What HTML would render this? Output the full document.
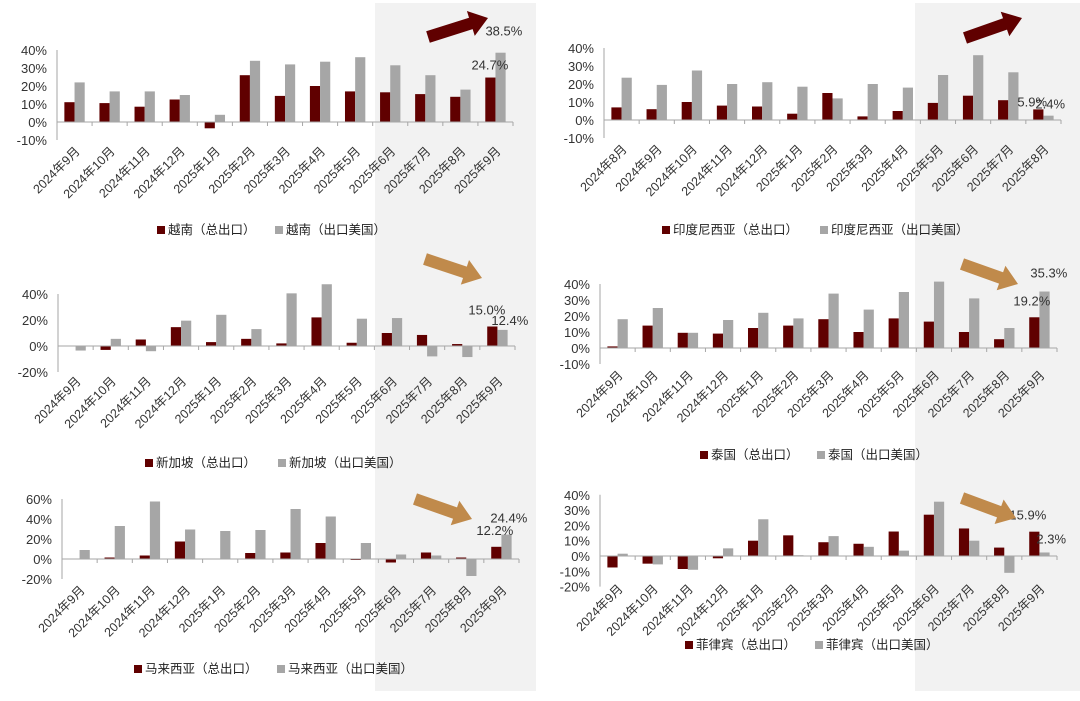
<!DOCTYPE html>
<html><head><meta charset="utf-8">
<style>
html,body{margin:0;padding:0;background:#fff;}
svg{display:block;font-family:"Liberation Sans","Noto Sans CJK SC",sans-serif;}
</style></head>
<body>
<svg id="c" width="1080" height="701" viewBox="0 0 1080 701" xmlns="http://www.w3.org/2000/svg">
<rect x="375" y="3" width="161" height="688" fill="#f2f2f2"/>
<rect x="915" y="3" width="165" height="688" fill="#f2f2f2"/>
<g id="panels"></g>
</svg>
<script>
const catsA = ["2024年9月","2024年10月","2024年11月","2024年12月","2025年1月","2025年2月","2025年3月","2025年4月","2025年5月","2025年6月","2025年7月","2025年8月","2025年9月"];
const catsB = ["2024年8月","2024年9月","2024年10月","2024年11月","2024年12月","2025年1月","2025年2月","2025年3月","2025年4月","2025年5月","2025年6月","2025年7月","2025年8月"];
const vnTotal = [11,10.5,8.5,12.5,-3.5,26,14.5,20,17,16.5,15.5,14,24.7];
const vnUS = [22,17,17,15,4,34,32,33.5,36,31.5,26,18,38.5];
const idTotal = [7,6,10,8,7.5,3.5,15,2,5,9.5,13.5,11,5.9];
const idUS = [23.5,19.5,27.5,20,21,18.5,12,20,18,25,36,26.5,2.4];
const sgTotal = [0,-3,5,14.5,3,5.5,2,22,2.5,10,8.5,1.5,15.0];
const sgUS = [-3.5,5.5,-4,19.5,24,13,40.5,47.5,21,21.5,-8,-8.5,12.4];
const thTotal = [1,14,9.5,9,12.5,14,18,10,18.5,16.5,10,5.5,19.2];
const thUS = [18,25,9.5,17.5,22,18.5,34,24,35,41.5,31,12.5,35.3];
const myTotal = [-0.5,1.5,3.5,17.5,0,6,6.5,16,-1,-3.5,6.5,1.5,12.2];
const myUS = [9,33,57.5,29.5,28,29,50,42.5,16,4.5,3.5,-17,24.4];
const phTotal = [-7.5,-5,-8.5,-1.5,10,13.5,9,8,16,27,18,5.5,15.9];
const phUS = [1.5,-5.5,-9,5,24,0.5,13,6,3.5,35.5,10,-11,2.3];
const ticksVN = [40,30,20,10,0,-10];
const ticksSG = [40,20,0,-20];
const ticksMY = [60,40,20,0,-20];
const ticksPH = [40,30,20,10,0,-10,-20];
const namesArr = ["越南","印度尼西亚","新加坡","泰国","马来西亚","菲律宾"];

const NS="http://www.w3.org/2000/svg";
const root=document.getElementById('panels');
function mk(tag,attrs,parent){const e=document.createElementNS(NS,tag);for(const k in attrs)e.setAttribute(k,attrs[k]);(parent||root).appendChild(e);return e;}

function panel(o){
  const g=mk('g',{});
  
  
  const y=v=>o.y0-(v-0)*o.ppu;
  const n=o.cats.length, w=(o.x1-o.x0)/n;
  const x=i=>o.x0+w*(i+0.5);
  const top=y(o.ticks[0]), bot=y(o.ticks[o.ticks.length-1]);
  const lo=(o.lo===undefined)?12:o.lo;
  const ax=mk('line',{x1:o.x0,y1:top,x2:o.x0,y2:bot,stroke:'#a6a6a6','stroke-width':1},g);
  
  
  o.ticks.forEach(t=>{
    const tx=mk('text',{x:o.x0-10,y:y(t)+5,'text-anchor':'end','font-size':13,fill:'#333'},g);
    tx.textContent=t+'%';
    
    
  });
  const bw=w*0.29;
  o.cats.forEach((c,i)=>{
    const a=o.total[i], b=o.us[i];
    const r1=mk('rect',{x:x(i)-bw,y:Math.min(y(a),y(0)),width:bw,height:Math.abs(y(a)-y(0)),fill:'#600000'},g);
    
    
    const r2=mk('rect',{x:x(i),y:Math.min(y(b),y(0)),width:bw,height:Math.abs(y(b)-y(0)),fill:'#a6a6a6'},g);
    
    
    const tl=mk('text',{x:0,y:0,'text-anchor':'end','font-size':12.5,fill:'#333',transform:`translate(${x(i)+6},${bot+lo}) rotate(-45)`},g);
    tl.textContent=c;
    
    
  });
  const xa=mk('line',{x1:o.x0,y1:y(0),x2:o.x1,y2:y(0),stroke:'#a6a6a6','stroke-width':1},g);
  
  
  for(let i=1;i<=n;i++){mk('line',{x1:o.x0+w*i,y1:y(0),x2:o.x0+w*i,y2:y(0)+4,stroke:'#a6a6a6'},g);}
  const L=n-1;
  const l1=mk('text',{x:x(L)+o.lb[0],y:y(o.us[L])+o.lb[1],'font-size':13,fill:'#333'},g);
  l1.textContent=o.us[L].toFixed(1)+'%';
  
  
  const l2=mk('text',{x:x(L)+o.la[0],y:y(o.total[L])+o.la[1],'font-size':13,fill:'#333'},g);
  l2.textContent=o.total[L].toFixed(1)+'%';
  
  
  const lx=o.leg[0], ly=o.leg[1];
  mk('rect',{x:lx,y:ly-8,width:8,height:8,fill:'#600000'},g);
  const t1=mk('text',{x:lx+11,y:ly,'font-size':12.5,fill:'#222'},g);
  t1.textContent=o.name+'（总出口）';
  
  
  const gx=lx+o.legGap;
  mk('rect',{x:gx,y:ly-8,width:8,height:8,fill:'#a6a6a6'},g);
  const t2=mk('text',{x:gx+11,y:ly,'font-size':12.5,fill:'#222'},g);
  t2.textContent=o.name+'（出口美国）';
  
  
  const [ax1,ay1,ax2,ay2]=o.arrow;
  const ang=Math.atan2(ay2-ay1,ax2-ax1), len=Math.hypot(ax2-ax1,ay2-ay1);
  const ar=mk('polygon',{points:`0,-6 ${len-18},-6 ${len-18},-13 ${len},0 ${len-18},13 ${len-18},6 0,6`,fill:o.arrowColor,transform:`translate(${ax1},${ay1}) rotate(${ang*180/Math.PI})`},g);
  
  
}

panel({id:'vietnam',name:namesArr[0],cats:catsA,total:vnTotal,us:vnUS,ticks:ticksVN,x0:57,x1:513,y0:122,ppu:1.8,lb:[-10,-17],la:[-24,-8],leg:[157,234],legGap:118,arrow:[428,37,488,18],arrowColor:'#600000'});
panel({id:'indonesia',name:namesArr[1],cats:catsB,total:idTotal,us:idUS,ticks:ticksVN,x0:604,x1:1061,y0:120,ppu:1.8,lb:[-8,-7],la:[-26,-3],leg:[662,234],legGap:158,arrow:[965,38,1022,18],arrowColor:'#600000'});
panel({id:'singapore',name:namesArr[2],cats:catsA,total:sgTotal,us:sgUS,ticks:ticksSG,x0:58,x1:515,y0:346,ppu:1.3,lb:[-6,-5],la:[-29,-12],leg:[145,467],legGap:133,arrow:[425,259,482,278],arrowColor:'#c08a4b',lo:10});
panel({id:'thailand',name:namesArr[3],cats:catsA,total:thTotal,us:thUS,ticks:ticksVN,x0:600,x1:1057,y0:348,ppu:1.6,lb:[-9,-14],la:[-26,-12],leg:[700,459],legGap:117,arrow:[962,264,1018,284],arrowColor:'#c08a4b'});
panel({id:'malaysia',name:namesArr[4],cats:catsA,total:myTotal,us:myUS,ticks:ticksMY,x0:62,x1:519,y0:559,ppu:1.0,lb:[-11,-12],la:[-25,-12],leg:[134,673],legGap:143,arrow:[415,499,472,519],arrowColor:'#c08a4b'});
panel({id:'philippines',name:namesArr[5],cats:catsA,total:phTotal,us:phUS,ticks:ticksPH,x0:600,x1:1057,y0:556,ppu:1.53,lb:[-3,-9],la:[-30,-12],leg:[685,649],legGap:130,arrow:[962,498,1016,518],arrowColor:'#c08a4b',lo:3});
</script>
</body></html>
